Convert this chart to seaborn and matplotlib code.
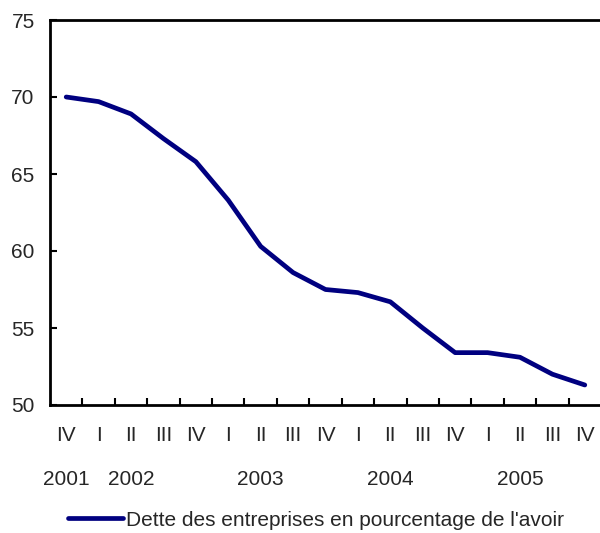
import matplotlib
matplotlib.use('Agg')
import matplotlib.pyplot as plt
import matplotlib.transforms as mtransforms
import pandas as pd
import seaborn as sns

# Data
quarters = ['IV', 'I', 'II', 'III', 'IV', 'I', 'II', 'III', 'IV',
            'I', 'II', 'III', 'IV', 'I', 'II', 'III', 'IV']
years = ['2001', '2002', '2003', '2004', '2005']
year_pos = [0, 2, 6, 10, 14]
debt_ratio = [70.0, 69.7, 68.9, 67.3, 65.8, 63.3, 60.3, 58.6, 57.5,
              57.3, 56.7, 55.0, 53.4, 53.4, 53.1, 52.0, 51.3]
label = "Dette des entreprises en pourcentage de l'avoir"

df = pd.DataFrame({'pos': range(len(debt_ratio)), 'value': debt_ratio})

sns.set_style('white')
plt.rcParams['font.family'] = ['Liberation Sans', 'DejaVu Sans']

fig = plt.figure(figsize=(6, 5.33), dpi=100)
ax = fig.add_axes([50 / 600, 128 / 533, 551 / 600, 385 / 533])

sns.lineplot(data=df, x='pos', y='value', color='#000080', linewidth=3.4,
             ax=ax, label=label, legend=False)

ax.set_xlim(-0.5, len(debt_ratio) - 0.5)
ax.set_ylim(50, 75)
ax.set_yticks([50, 55, 60, 65, 70, 75])
ax.set_xlabel('')
ax.set_ylabel('')

# quarter labels at centers, tick marks at boundaries
ax.set_xticks(range(len(quarters)))
ax.set_xticklabels(quarters)
ax.set_xticks([i + 0.5 for i in range(len(quarters) - 1)], minor=True)
ax.tick_params(axis='x', which='major', length=0, pad=15, labelsize=15)
ax.tick_params(axis='x', which='minor', direction='in', length=5, width=1.5,
               color='black', bottom=True)
ax.tick_params(axis='y', direction='in', length=5, width=1.5, color='black',
               left=True, pad=11, labelsize=15)

for s in ['left', 'bottom', 'top']:
    ax.spines[s].set_color('black')
    ax.spines[s].set_linewidth(2)
ax.spines['right'].set_visible(False)

trans = mtransforms.blended_transform_factory(ax.transData, ax.transAxes)
for yr, p in zip(years, year_pos):
    ax.text(p, -0.193, yr, transform=trans, ha='center', va='center', fontsize=15)

fig.legend(loc='center', bbox_to_anchor=(316 / 600, 13 / 533), frameon=False,
           fontsize=15, handlelength=2.6, handletextpad=0.14, borderpad=0)

fig.savefig('out.png', dpi=100)
